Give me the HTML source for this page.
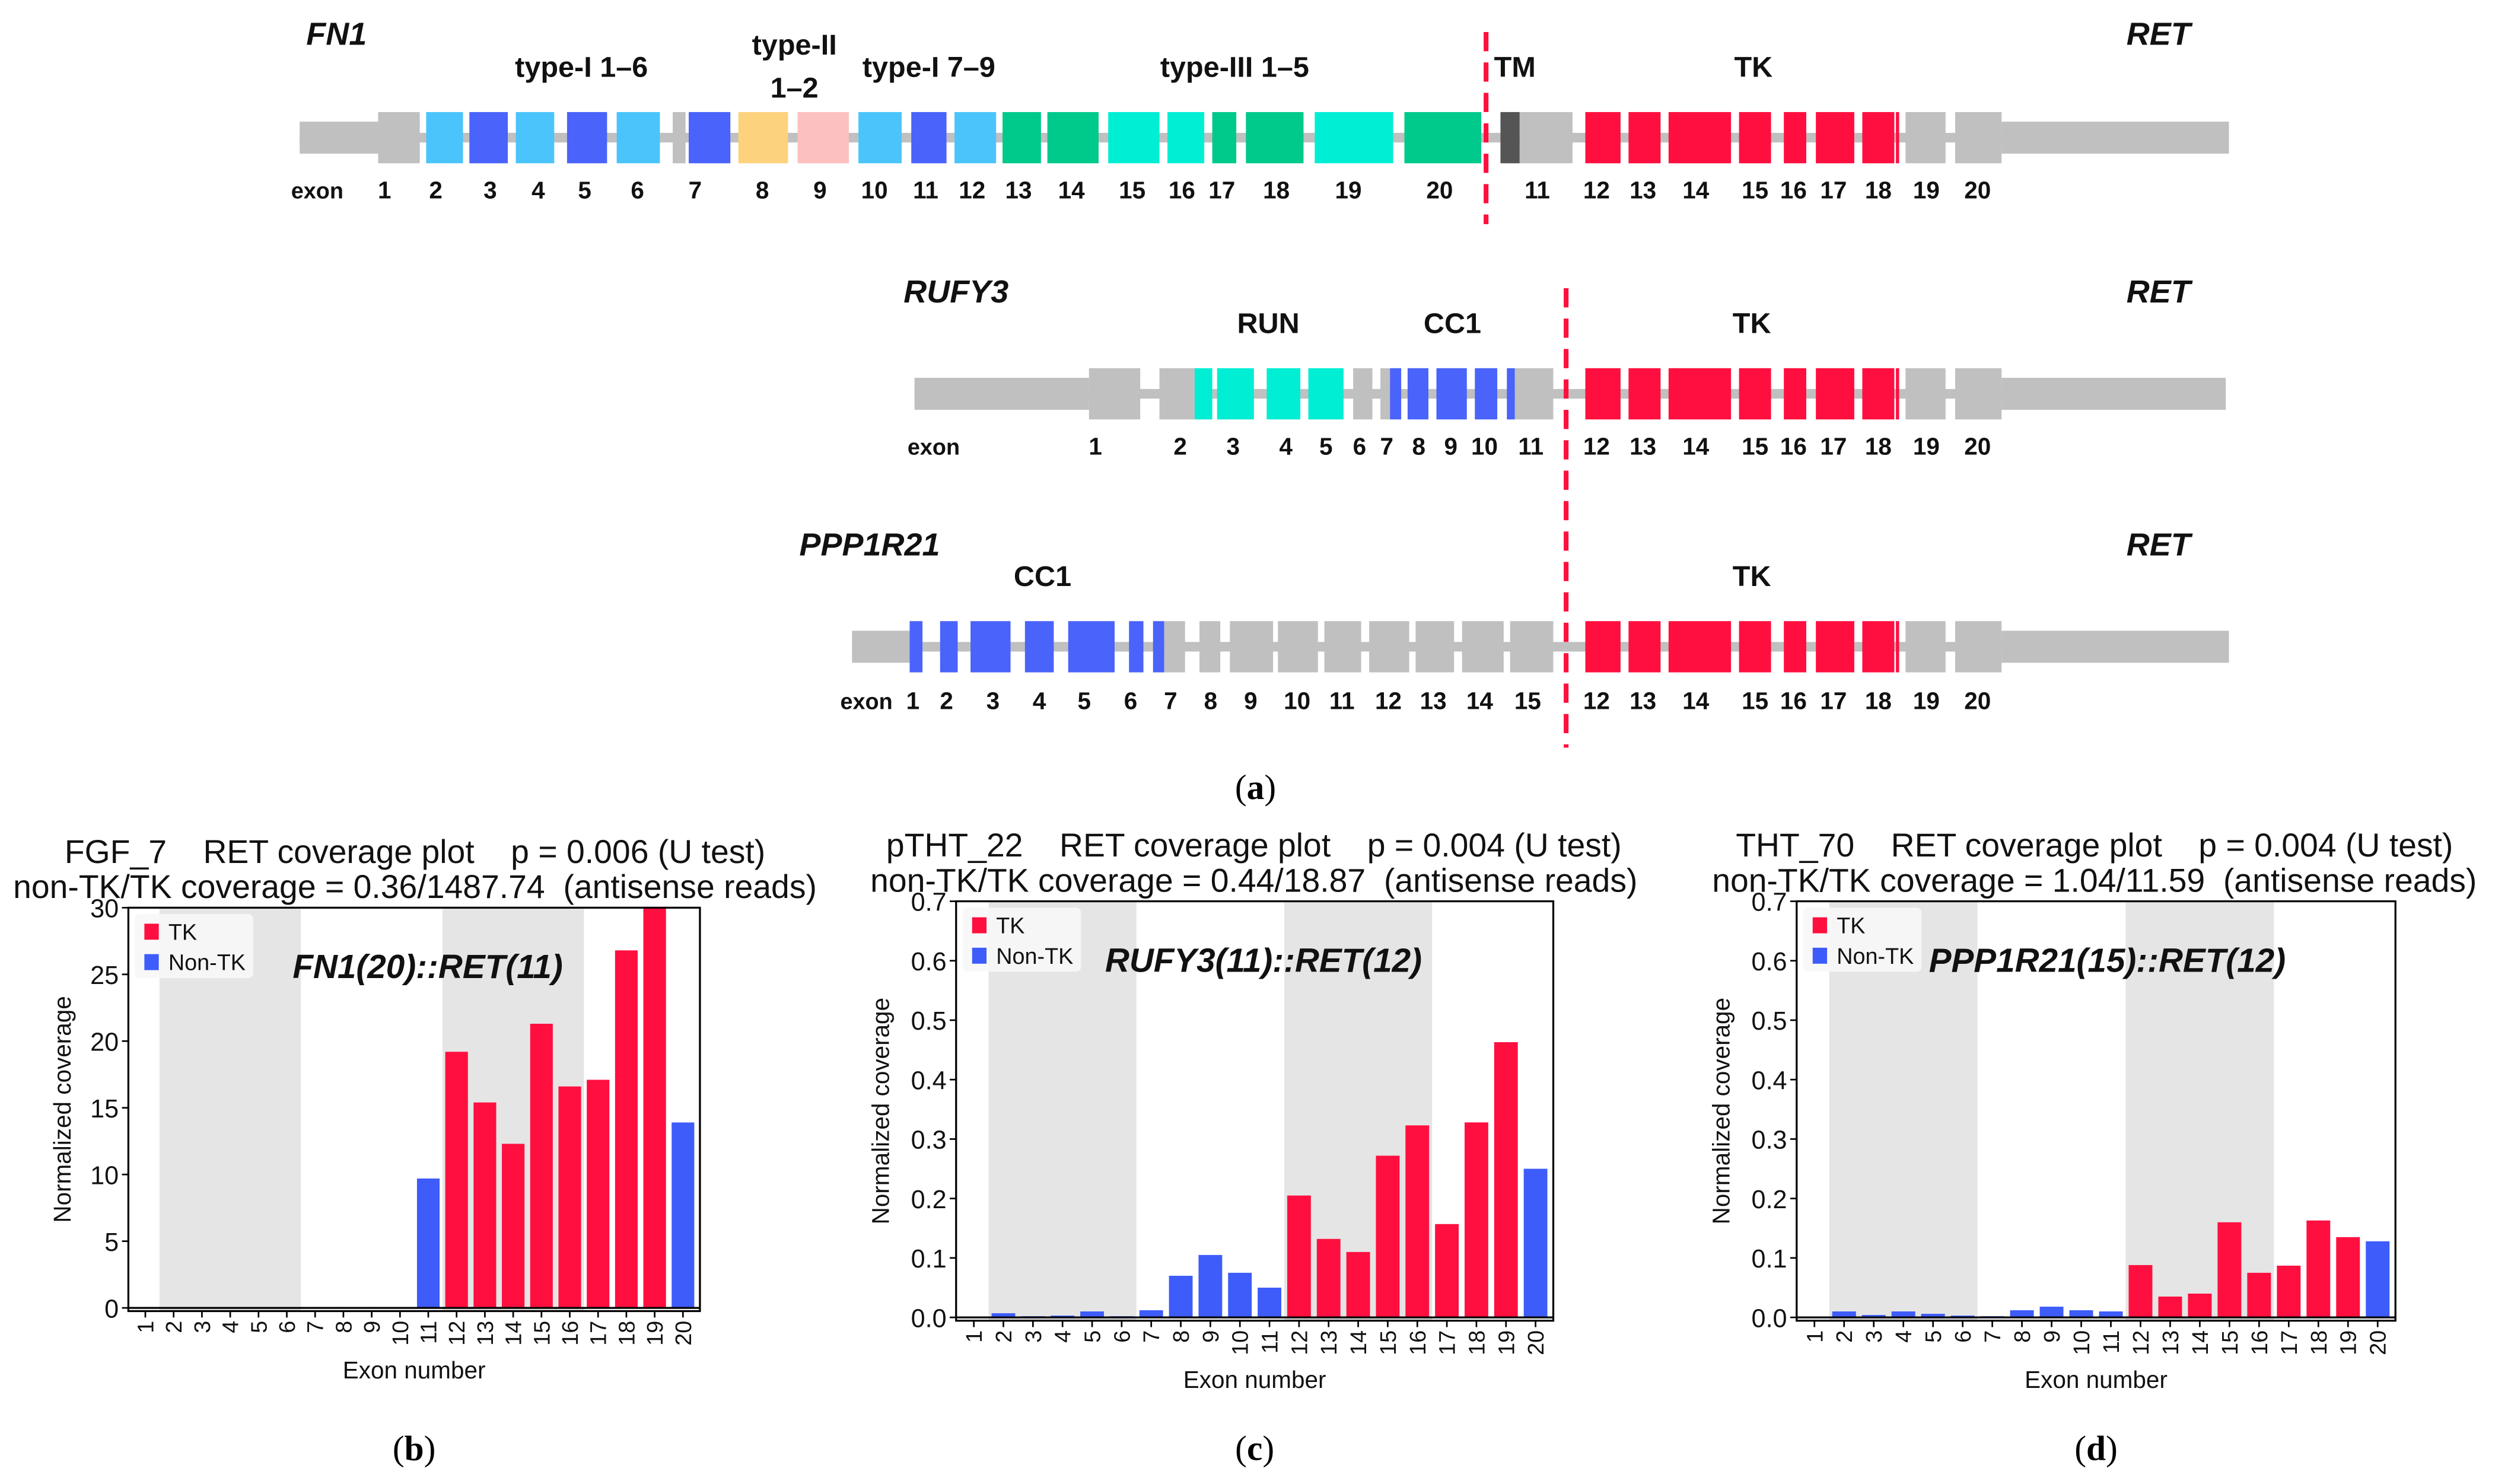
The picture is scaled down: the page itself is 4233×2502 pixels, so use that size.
<!DOCTYPE html>
<html><head><meta charset="utf-8">
<style>
html,body{margin:0;padding:0;background:#fff;}
svg{display:block;}
.g{font-family:"Liberation Sans",Arial,sans-serif;font-weight:bold;fill:#111;}
.c{font-family:"Liberation Sans","DejaVu Sans",sans-serif;fill:#111;white-space:pre;}
</style></head>
<body>
<svg id="fig" width="4233" height="2502" viewBox="0 0 1568 927" xmlns="http://www.w3.org/2000/svg">
<rect width="1568" height="927" fill="#fff"/>
<g id="diagram"></g>
<text x="784" y="499" text-anchor="middle" font-family="Liberation Serif,serif" font-size="22">(<tspan font-weight="bold">a</tspan>)</text>
<g id="charts"></g>
</svg>
<script>
// ---------- chart data ----------
const exonLabels = ["1","2","3","4","5","6","7","8","9","10","11","12","13","14","15","16","17","18","19","20"];
const valuesB = [0.05,0.05,0.05,0.05,0.05,0.05,0.05,0.05,0.05,0.05,9.7,19.2,15.4,12.3,21.3,16.6,17.1,26.8,30,13.9];
const valuesC = [0,0.007,0.002,0.003,0.01,0.002,0.012,0.07,0.105,0.075,0.05,0.205,0.132,0.11,0.272,0.323,0.157,0.328,0.463,0.25];
const valuesD = [0,0.01,0.004,0.01,0.006,0.003,0.002,0.012,0.018,0.012,0.01,0.088,0.035,0.04,0.16,0.075,0.087,0.163,0.135,0.128];
const groupsAll = ["N","N","N","N","N","N","N","N","N","N","N","T","T","T","T","T","T","T","T","N"];
const ticksB = [0,5,10,15,20,25,30];
const ticksC = [0,0.1,0.2,0.3,0.4,0.5,0.6,0.7];
const tickLabelsC = ["0.0","0.1","0.2","0.3","0.4","0.5","0.6","0.7"];

const NS="http://www.w3.org/2000/svg";
function mk(tag,attrs,parent){const e=document.createElementNS(NS,tag);for(const k in attrs)e.setAttribute(k,attrs[k]);parent.appendChild(e);return e;}
const RED="#ff0f3f",BLUE="#3d5cfa",GRAY="#c0c0c0";

// ---------- diagram ----------
const D=document.getElementById('diagram');
function row(cy,utrL,exons,utrR){
  const grp=mk('g',{},D);
  
  
  mk('rect',{x:utrL[0],y:cy-3,width:utrR[1]-utrL[0],height:6,fill:GRAY},grp);
  mk('rect',{x:utrL[0],y:cy-10,width:utrL[1]-utrL[0],height:20,fill:GRAY},grp);
  mk('rect',{x:utrR[0],y:cy-10,width:utrR[1]-utrR[0],height:20,fill:GRAY},grp);
  exons.forEach(e=>{const r=mk('rect',{x:e[0],y:cy-16,width:e[1]-e[0],height:32,fill:e[2]},grp);
    });
}
function txt(x,y,s,size,extra){const t=mk('text',Object.assign({x:x,y:y,'text-anchor':'middle','font-size':size,class:'g'},extra||{}),D);t.textContent=s;
  return t;}
const LB="#4bc4fc",DB="#4a63fa",OR="#fdd27c",PK="#fdc0c0",GR="#00c98c",CY="#00eed4",DK="#555";
const retEx=[[990,1012,RED],[1017,1037,RED],[1042,1081,RED],[1086,1106,RED],[1114,1128,RED],[1134,1158,RED],[1163,1183,RED],[1184,1186,RED],[1190,1215,GRAY],[1221,1250,GRAY]];
const retNums=[[997,"12"],[1026,"13"],[1059,"14"],[1096,"15"],[1120,"16"],[1145,"17"],[1173,"18"],[1203,"19"],[1235,"20"]];
// FN1
row(86,[187,236],[[236,262,GRAY],[266,289,LB],[293,317,DB],[322,346,LB],[354,379,DB],[385,412,LB],[420,428,GRAY],[430,456,DB],[461,492,OR],[498,530,PK],[536,563,LB],[569,591,DB],[596,622,LB],[626,650,GR],[654,686,GR],[692,724,CY],[729,752,CY],[757,772,GR],[778,814,GR],[821,870,CY],[877,925,GR],[937,949,DK],[949,982,GRAY]].concat(retEx),[1250,1392]);
txt(210,28,"FN1",20,{'font-style':'italic'});txt(1348,28,"RET",20,{'font-style':'italic'});
txt(363,48,"type-I 1–6",18);txt(496,34,"type-II",18);txt(496,61,"1–2",18);txt(580,48,"type-I 7–9",18);txt(771,48,"type-III 1–5",18);txt(946,48,"TM",18);txt(1095,48,"TK",18);
[[198,"exon"],[240,"1"],[272,"2"],[306,"3"],[336,"4"],[365,"5"],[398,"6"],[434,"7"],[476,"8"],[512,"9"],[546,"10"],[578,"11"],[607,"12"],[636,"13"],[669,"14"],[707,"15"],[738,"16"],[763,"17"],[797,"18"],[842,"19"],[899,"20"],[960,"11"]].concat(retNums).forEach(n=>txt(n[0],124,n[1],n[1]=="exon"?14:15));
// RUFY3
row(246,[571,680],[[680,712,GRAY],[724,746,GRAY],[746,757,CY],[760,783,CY],[791,812,CY],[817,839,CY],[845,857,GRAY],[862,868,GRAY],[868,875,DB],[879,892,DB],[897,916,DB],[921,935,DB],[941,946,DB],[946,970,GRAY]].concat(retEx),[1250,1390]);
txt(597,189,"RUFY3",20,{'font-style':'italic'});txt(1348,189,"RET",20,{'font-style':'italic'});
txt(792,208,"RUN",18);txt(907,208,"CC1",18);txt(1094,208,"TK",18);
[[583,"exon"],[684,"1"],[737,"2"],[770,"3"],[803,"4"],[828,"5"],[849,"6"],[866,"7"],[886,"8"],[906,"9"],[927,"10"],[956,"11"]].concat(retNums).forEach(n=>txt(n[0],284,n[1],n[1]=="exon"?14:15));
// PPP1R21
row(404,[532,568],[[568,576,DB],[587,598,DB],[606,631,DB],[640,658,DB],[667,696,DB],[705,714,DB],[720,727,DB],[727,740,GRAY],[749,762,GRAY],[768,795,GRAY],[798,823,GRAY],[827,850,GRAY],[855,880,GRAY],[884,908,GRAY],[913,939,GRAY],[943,970,GRAY]].concat(retEx),[1250,1392]);
txt(543,347,"PPP1R21",20,{'font-style':'italic'});txt(1348,347,"RET",20,{'font-style':'italic'});
txt(651,366,"CC1",18);txt(1094,366,"TK",18);
[[541,"exon"],[570,"1"],[591,"2"],[620,"3"],[649,"4"],[677,"5"],[706,"6"],[731,"7"],[756,"8"],[781,"9"],[810,"10"],[838,"11"],[867,"12"],[895,"13"],[924,"14"],[954,"15"]].concat(retNums).forEach(n=>txt(n[0],443,n[1],n[1]=="exon"?14:15));
// breakpoints
let l1=mk('line',{x1:928,y1:20,x2:928,y2:140,stroke:RED,'stroke-width':3,'stroke-dasharray':'12,7'},D);

let l2=mk('line',{x1:978,y1:180,x2:978,y2:467,stroke:RED,'stroke-width':3,'stroke-dasharray':'12,7'},D);


// ---------- charts ----------
const C=document.getElementById('charts');
function chart(o){
  const g=mk('g',{},C);
  
  
  const L=o.x0,R=o.x1,T=o.y0,B=o.y1,ymax=o.ticks[o.ticks.length-1],ymin=-ymax*0.008;
  const n=exonLabels.length,step=(R-L)/(n+0.2);
  const xs=i=>L+(i+0.6)*step;
  const ys=v=>B-(Math.min(v,ymax)-ymin)/(ymax-ymin)*(B-T);
  const sh=[[1,5],[11,15]];
  sh.forEach(s=>{const r=mk('rect',{x:xs(s[0])-step/2,y:T,width:(s[1]-s[0]+1)*step,height:B-T,fill:"#e5e5e5"},g);
    });
  o.values.forEach((v,i)=>{const y=ys(v),y0=ys(0);
    const b=mk('rect',{x:xs(i)-0.4*step,y:Math.min(y,y0),width:0.8*step,height:Math.abs(y0-y),fill:groupsAll[i]=="T"?RED:BLUE},g);
    });
  mk('line',{x1:L,x2:R,y1:ys(0),y2:ys(0),stroke:"#000",'stroke-width':1.2},g);
  const fr=mk('rect',{x:L,y:T,width:R-L,height:B-T,fill:'none',stroke:'#000','stroke-width':1.2},g);
  
  o.ticks.forEach((t,i)=>{const y=ys(t);mk('line',{x1:L-4,x2:L,y1:y,y2:y,stroke:'#000'},g);
    const tt=mk('text',{x:L-6,y:y+6,'text-anchor':'end','font-size':16,class:'c'},g);tt.textContent=o.tickLabels[i];
    });
  exonLabels.forEach((lab,i)=>{const x=xs(i);mk('line',{x1:x,x2:x,y1:B,y2:B+4,stroke:'#000'},g);
    const tt=mk('text',{x:0,y:0,'text-anchor':'end','font-size':14,class:'c',transform:`translate(${x+5},${B+6}) rotate(-90)`},g);tt.textContent=lab;
    });
  const cx=(L+R)/2;
  const yl=mk('text',{x:0,y:0,'text-anchor':'middle','font-size':15,class:'c',transform:`translate(${L-o.yl},${(T+B)/2}) rotate(-90)`},g);yl.textContent="Normalized coverage";
  
  const xl=mk('text',{x:cx,y:B+42,'text-anchor':'middle','font-size':15,class:'c'},g);xl.textContent="Exon number";
  
  const t1=mk('text',{x:o.tx,y:T-28,'text-anchor':'middle','font-size':20.5,class:'c'},g);t1.textContent=o.title1;
  
  const t2=mk('text',{x:o.tx,y:T-6,'text-anchor':'middle','font-size':20.5,class:'c'},g);t2.textContent=o.title2;
  
  const lg=mk('g',{},g);
  mk('rect',{x:L+4,y:T+4,width:74,height:40,rx:3,fill:'#f7f7f7',opacity:0.9},lg);
  mk('rect',{x:L+10,y:T+10,width:9,height:10,fill:RED},lg);
  mk('rect',{x:L+10,y:T+29,width:9,height:10,fill:BLUE},lg);
  let a=mk('text',{x:L+25,y:T+20,'font-size':14,class:'c'},lg);a.textContent="TK";
  let b2=mk('text',{x:L+25,y:T+39,'font-size':14,class:'c'},lg);b2.textContent="Non-TK";
  const an=mk('text',{x:o.ax,y:T+44,'text-anchor':'middle','font-size':21,class:'g','font-style':'italic'},g);an.textContent=o.ann;
  
  const pl=mk('text',{x:cx,y:912,'text-anchor':'middle','font-size':22,'font-family':'Liberation Serif,serif'},g);pl.innerHTML='(<tspan font-weight="bold">'+o.pl+'</tspan>)';
  
}
chart({name:'chart-b',x0:80,x1:437,y0:567,y1:819,yl:36,values:valuesB,ticks:ticksB,tickLabels:ticksB.map(String),tx:259,ax:267,ann:"FN1(20)::RET(11)",pl:'b',
  title1:"FGF_7    RET coverage plot    p = 0.006 (U test)",title2:"non-TK/TK coverage = 0.36/1487.74  (antisense reads)"});
chart({name:'chart-c',x0:597,x1:970,y0:563,y1:825,yl:42,values:valuesC,ticks:ticksC,tickLabels:tickLabelsC,tx:783,ax:789,ann:"RUFY3(11)::RET(12)",pl:'c',
  title1:"pTHT_22    RET coverage plot    p = 0.004 (U test)",title2:"non-TK/TK coverage = 0.44/18.87  (antisense reads)"});
chart({name:'chart-d',x0:1122,x1:1496,y0:563,y1:825,yl:42,values:valuesD,ticks:ticksC,tickLabels:tickLabelsC,tx:1308,ax:1316,ann:"PPP1R21(15)::RET(12)",pl:'d',
  title1:"THT_70    RET coverage plot    p = 0.004 (U test)",title2:"non-TK/TK coverage = 1.04/11.59  (antisense reads)"});
</script>
</body></html>
